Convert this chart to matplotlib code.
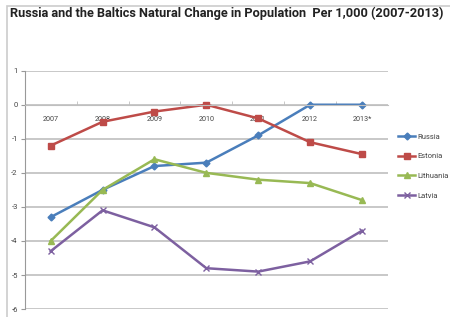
import matplotlib.pyplot as plt
from matplotlib.patches import Rectangle

# Data
years = ['2007', '2008', '2009', '2010', '2011', '2012', '2013*']
russia = [-3.3, -2.5, -1.8, -1.7, -0.9, 0.0, 0.0]
estonia = [-1.2, -0.5, -0.2, 0.0, -0.4, -1.1, -1.45]
lithuania = [-4.0, -2.5, -1.6, -2.0, -2.2, -2.3, -2.8]
latvia = [-4.3, -3.1, -3.6, -4.8, -4.9, -4.6, -3.7]
y_ticks = [1, 0, -1, -2, -3, -4, -5, -6]

series = [
    ('Russia', russia, '#4A7EBB', 'D', 3.5),
    ('Estonia', estonia, '#BE4B48', 's', 5),
    ('Lithuania', lithuania, '#98B954', '^', 5),
    ('Latvia', latvia, '#7D60A0', 'x', 5),
]

plt.rcParams['font.family'] = ['Roboto', 'DejaVu Sans']

fig = plt.figure(figsize=(4.5, 3.17), dpi=100)
fig.patches.append(Rectangle((0.016, -0.01), 1.0, 0.99, transform=fig.transFigure,
                             fill=False, edgecolor='#cccccc', linewidth=1.2))

ax = fig.add_axes([0.055, 0.025, 0.807, 0.752])
x = list(range(len(years)))
for name, vals, col, mk, ms in series:
    ax.plot(x, vals, color=col, linewidth=1.8, marker=mk, markersize=ms,
            markeredgewidth=1.0, label=name)

ax.set_xlim(-0.5, len(years) - 0.5)
ax.set_ylim(-6, 1)
ax.set_yticks(y_ticks)
ax.set_yticklabels([str(v) for v in y_ticks], fontsize=5.5, color='#444444')
ax.yaxis.grid(True, color='#bfbfbf', linewidth=1.2)
ax.set_axisbelow(True)
ax.tick_params(axis='y', length=3, color='#999999', pad=2)

# category axis crosses at 0
ax.spines['bottom'].set_position(('data', 0))
ax.spines['bottom'].set_color('#bfbfbf')
ax.spines['top'].set_visible(False)
ax.spines['right'].set_visible(False)
ax.spines['left'].set_color('#999999')
ax.set_xticks(x)
ax.set_xticklabels(years, fontsize=5.2, color='#444444')
ax.set_xticks([i + 0.5 for i in x[:-1]], minor=True)
ax.tick_params(axis='x', which='major', length=0, pad=8)
ax.tick_params(axis='x', which='minor', length=3, color='#bfbfbf', direction='in')

leg = ax.legend(loc='center left', bbox_to_anchor=(1.01, 0.60), frameon=False,
                fontsize=5.5, handlelength=2.2, labelspacing=1.75, handletextpad=0.3)
for t in leg.get_texts():
    t.set_color('#444444')

title = fig.text(0.022, 0.945,
                 'Russia and the Baltics Natural Change in Population  Per 1,000 (2007-2013)',
                 fontsize=10, fontweight='bold', color='#222222')
# shrink the title so it spans the same width as in the reference
fig.canvas.draw()
w = title.get_window_extent().width
title.set_fontsize(10 * 436 / w)

fig.savefig('out.png', dpi=100)
